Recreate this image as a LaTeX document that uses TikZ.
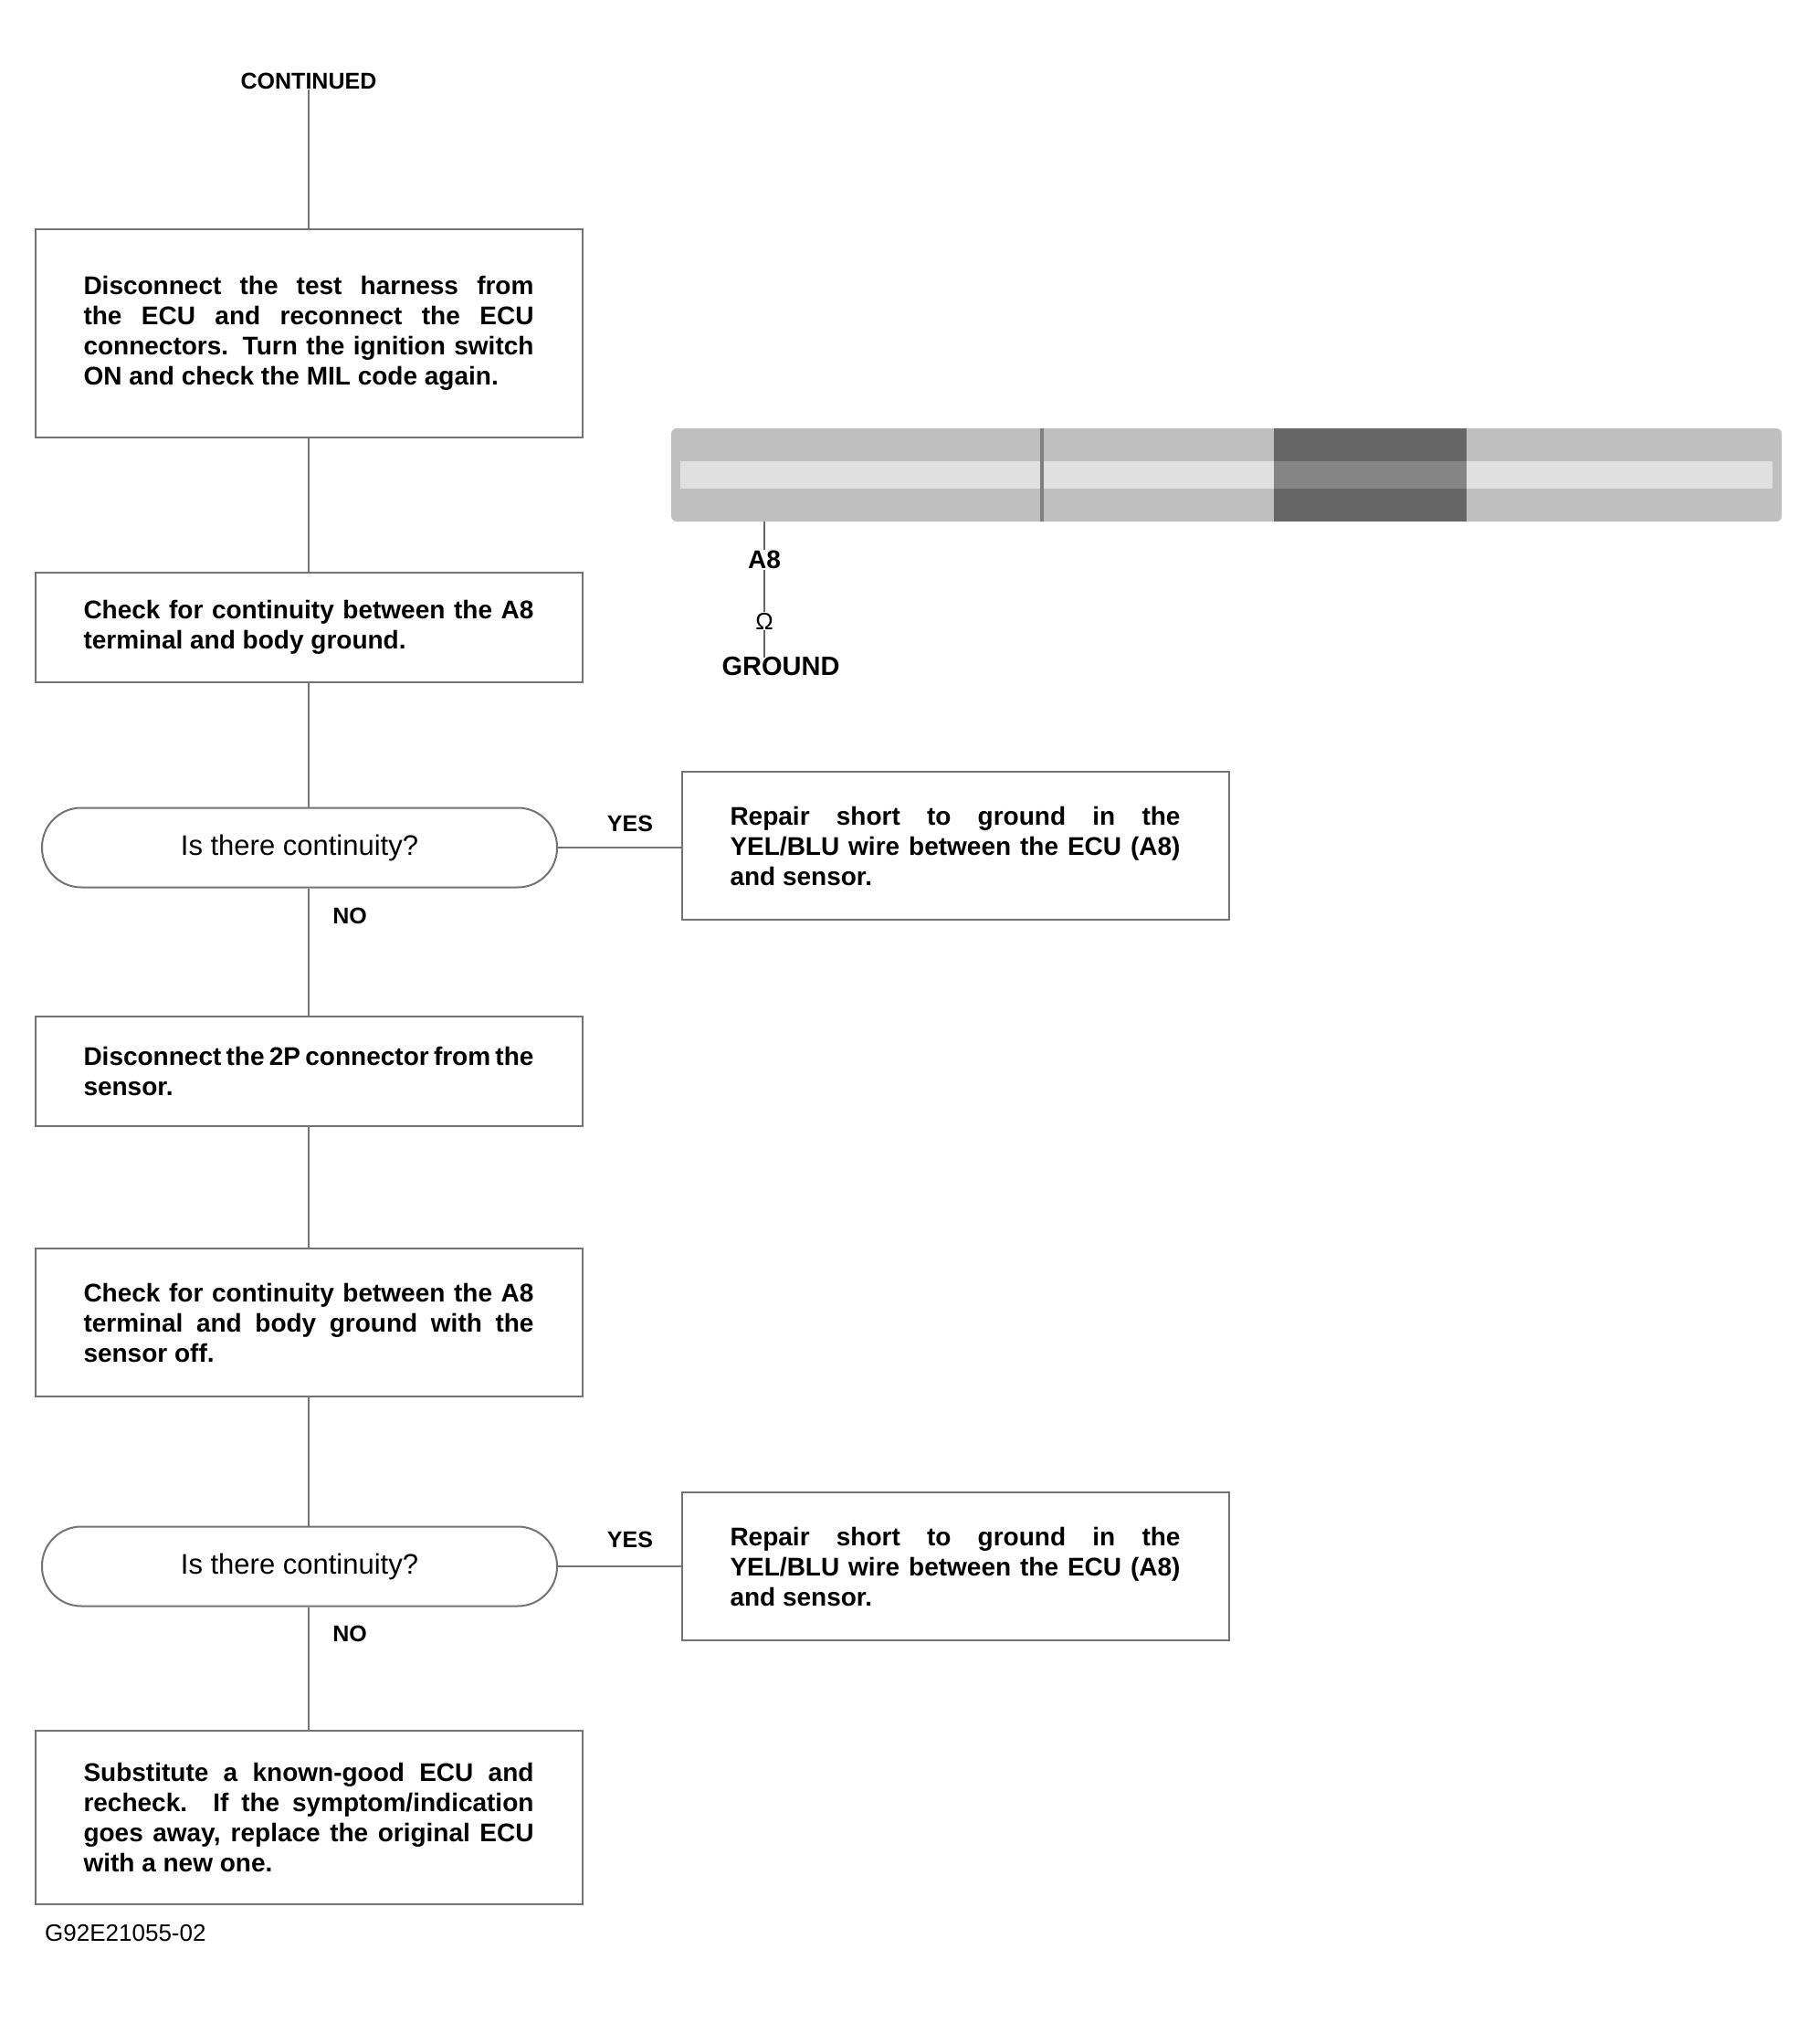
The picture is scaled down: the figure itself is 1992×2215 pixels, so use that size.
\documentclass[tikz,border=0pt]{standalone}
\usepackage{fontspec}
\setmainfont{Liberation Sans}
\begin{document}
\hyphenpenalty=10000 \exhyphenpenalty=10000
\begin{tikzpicture}[x=1pt,y=-1pt,
  conn/.style={draw=black!55,line width=2pt},
  stepbox/.style={draw=black!55,line width=2pt,minimum width=599pt,text width=493pt,align=justify,inner sep=0pt,font=\bfseries\fontsize{28}{33}\selectfont},
  askoval/.style={draw=black!55,line width=2pt,minimum width=564pt,minimum height=87pt,rounded corners=43pt,inner sep=0pt,font=\fontsize{31}{34}\selectfont},
  lbl/.style={inner sep=0pt,font=\bfseries\fontsize{25}{28}\selectfont},
]
\useasboundingbox (0,0) rectangle (1992,2215);
\fill[white] (0,0) rectangle (1992,2215);

\node[inner sep=0pt,font=\bfseries\fontsize{25}{28}\selectfont] (cont) at (338,89) {CONTINUED};

\node[stepbox,minimum height=228pt] (b1) at (338,365) {\hyphenpenalty=10000 Disconnect the test harness from the ECU and reconnect the ECU connectors. Turn the ignition switch ON and check the MIL code again.};

\node[stepbox,minimum height=120pt] (b2) at (338,687) {\hyphenpenalty=10000 Check for continuity between the A8 terminal and body ground.};

\node[askoval] (o1) at (328,928) {Is there continuity?};
\node[stepbox,minimum height=162pt] (r1) at (1046,926) {\hyphenpenalty=10000 Repair short to ground in the YEL/BLU wire between the ECU (A8) and sensor.};

\node[stepbox,minimum height=120pt] (b3) at (338,1173) {\hyphenpenalty=10000 Disconnect the 2P connector from the sensor.};

\node[stepbox,minimum height=162pt] (b4) at (338,1448) {\hyphenpenalty=10000 Check for continuity between the A8 terminal and body ground with the sensor off.};

\node[askoval] (o2) at (328,1715) {Is there continuity?};
\node[stepbox,minimum height=162pt] (r2) at (1046,1715) {\hyphenpenalty=10000 Repair short to ground in the YEL/BLU wire between the ECU (A8) and sensor.};

\node[stepbox,minimum height=190pt] (b5) at (338,1990) {\hyphenpenalty=10000 Substitute a known-good ECU and recheck. If the symptom/indication goes away, replace the original ECU with a new one.};

\node[inner sep=0pt,anchor=west,font=\fontsize{26}{28}\selectfont] (fig) at (49,2117) {G92E21055-02};

% connectors
\draw[conn] (cont) -- (b1);
\draw[conn] (b1) -- (b2);
\draw[conn] (b2.south) -- (b2.south |- o1.north);
\draw[conn] (b2.south |- o1.south) -- (b3.north);
\draw[conn] (b3) -- (b4);
\draw[conn] (b4.south) -- (b4.south |- o2.north);
\draw[conn] (b4.south |- o2.south) -- (b5.north);
\draw[conn] (o1.east) -- (o1.east -| r1.west);
\draw[conn] (o2.east) -- (o2.east -| r2.west);

\node[lbl] (y1) at (690,902) {YES};
\node[lbl] (n1) at (383,1003) {NO};
\node[lbl] (y2) at (690,1686) {YES};
\node[lbl] (n2) at (383,1789) {NO};

% connector illustration
\fill[black!25,rounded corners=6pt] (735,469) rectangle (1951,571);
\fill[black!12] (745,505) rectangle (1941,535);
\fill[black!60] (1395,469) rectangle (1606,571);
\fill[black!48] (1395,505) rectangle (1606,535);
\draw[black!50,line width=4pt] (1141,469) -- (1141,571);
\coordinate (pinbase) at (837,571);
\node[inner sep=1pt,font=\bfseries\fontsize{28}{30}\selectfont] (pinA) at (837,613) {A8};
\node[inner sep=1pt,font=\fontsize{26}{28}\selectfont] (meter) at (837,680) {Ω};
\node[inner sep=0pt,font=\bfseries\fontsize{29}{30}\selectfont] (gnd) at (855,730) {GROUND};
\draw[black!60,line width=2pt] (pinbase) -- (pinA);
\draw[black!60,line width=2pt] (pinA) -- (meter);
\draw[black!60,line width=2pt] (meter) -- (meter|-gnd.north);
\end{tikzpicture}
\end{document}
